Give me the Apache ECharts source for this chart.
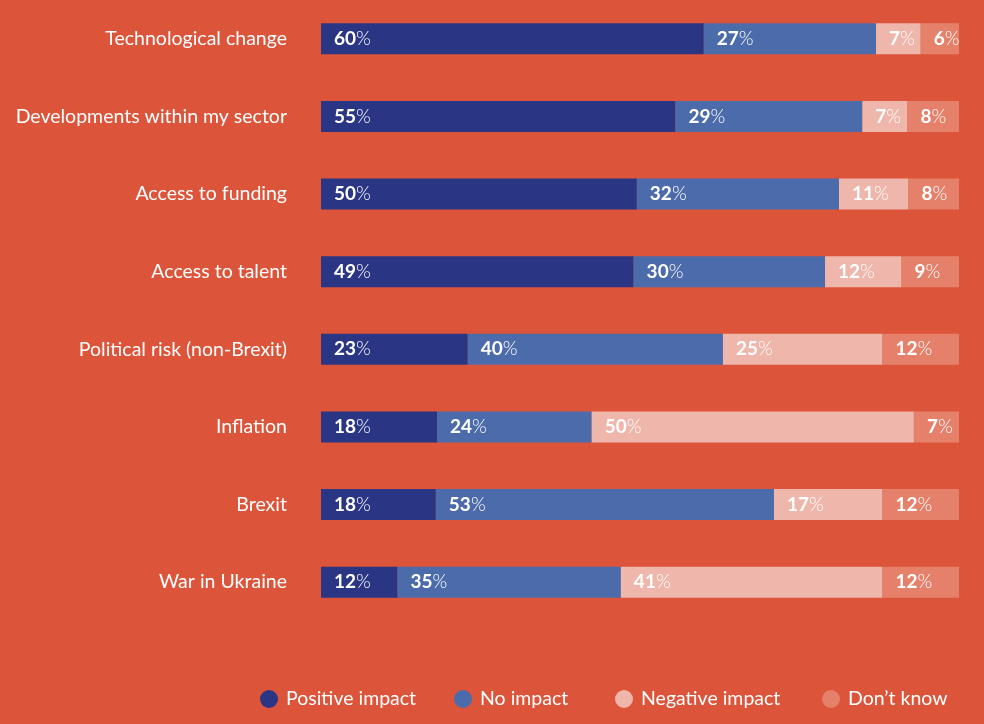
<!DOCTYPE html>
<html><head><meta charset="utf-8">
<script src="https://cdn.jsdelivr.net/npm/echarts@6/dist/echarts.min.js"></script>
<style>html,body{margin:0;padding:0;background:#dc5439;}#c{width:984px;height:724px;}</style>
</head><body><div id="c"></div>
<script>
const categories = ["Technological change","Developments within my sector","Access to funding","Access to talent","Political risk (non-Brexit)","Inflation","Brexit","War in Ukraine"];
const positive = [60,55,50,49,23,18,18,12];
const noImpact = [27,29,32,30,40,24,53,35];
const negative = [7,7,11,12,25,50,17,41];
const dontKnow = [6,8,8,9,12,7,12,12];
const seriesNames = ["Positive impact","No impact","Negative impact","Don\u2019t know"];
const colors = ["#2a3584","#4b6bab","#efb6ab","#e5806b"];
const legendLefts = [255,449,610,817];

const all = [positive,noImpact,negative,dontKnow];
const totals = categories.map((_,i)=>all.reduce((s,a)=>s+a[i],0));
const chart = echarts.init(document.getElementById('c'));
chart.setOption({
  backgroundColor:'#dc5439',
  animation:false,
  textStyle:{fontFamily:'Lato'},
  grid:{left:321,right:25,top:-3,height:624},
  xAxis:{type:'value',min:0,max:100,show:false},
  yAxis:{type:'category',inverse:true,data:categories,
    axisLine:{show:false},axisTick:{show:false},
    axisLabel:{color:'#fff',fontSize:19.5,fontFamily:'Lato',margin:34}},
  legend: seriesNames.map((n,k)=>({top:684,left:legendLefts[k],itemWidth:18,itemHeight:18,icon:'circle',
    textStyle:{color:'#fff',fontSize:19.5,fontFamily:'Lato',padding:[3,0,0,3]},
    data:[n]})),
  series: all.map((arr,k)=>({
    name:seriesNames[k],type:'bar',stack:'s',barWidth:31,
    itemStyle:{color:colors[k]},
    data:arr.map((v,i)=>({value:v/totals[i]*100,raw:v})),
    label:{show:true,position:'insideLeft',offset:[8,0],
      formatter:p=>'{b|'+all[k][p.dataIndex]+'}{p|%}',
      rich:{b:{color:'#fff',fontSize:19,fontWeight:'bold',fontFamily:'Lato'},
            p:{color:'#fff',fontSize:19,fontWeight:300,fontFamily:'Lato'}}}
  }))
});
</script></body></html>
